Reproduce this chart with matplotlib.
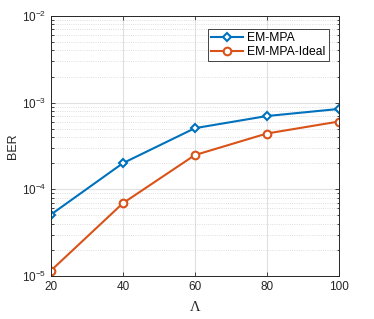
import matplotlib.pyplot as plt
from matplotlib.ticker import LogLocator, NullFormatter, FixedLocator

plt.rcParams['font.family'] = ['Liberation Sans', 'DejaVu Sans']
plt.rcParams['mathtext.fontset'] = 'custom'
plt.rcParams['mathtext.rm'] = 'Liberation Sans'

lam = [20, 40, 60, 80, 100]
ber_mpa = [5.1e-5, 2.0e-4, 5.07e-4, 7.0e-4, 8.45e-4]
ber_ideal = [1.15e-5, 6.9e-5, 2.48e-4, 4.4e-4, 6.05e-4]

blue = '#0072BD'
orange = '#D95319'

fig = plt.figure(figsize=(3.74, 3.19), dpi=100)
ax = fig.add_axes([0.136, 0.135, 0.770, 0.815])

ax.semilogy(lam, ber_mpa, color=blue, lw=1.5, marker='D', ms=4.5,
            mfc='white', mew=1.5, label='EM-MPA')
ax.semilogy(lam, ber_ideal, color=orange, lw=1.5, marker='o', ms=5.5,
            mfc='white', mew=1.5, label='EM-MPA-Ideal')

ax.set_xlim(20, 100)
ax.set_ylim(1e-5, 1e-2)
ax.xaxis.set_major_locator(FixedLocator(lam))
ax.yaxis.set_major_locator(LogLocator(base=10, numticks=10))
ax.yaxis.set_minor_locator(LogLocator(base=10, subs=range(2, 10), numticks=20))
ax.yaxis.set_minor_formatter(NullFormatter())

ax.grid(True, which='major', color='#e0e0e0', lw=0.8)
ax.grid(True, which='minor', axis='y', color='#d4d4d4', lw=0.6, ls=':')
ax.set_axisbelow(True)

ax.tick_params(which='both', direction='in', top=True, right=True,
               labelsize=8.5, colors='#262626', width=0.6)
ax.tick_params(which='major', length=3)
ax.tick_params(which='minor', length=1.8)
for s in ax.spines.values():
    s.set_color('#262626')
    s.set_linewidth(0.7)

ax.set_xlabel('Λ', fontsize=10.5, family='Liberation Serif', color='#262626',
              labelpad=6)
ax.set_ylabel('BER', fontsize=9, color='#262626', labelpad=2)

leg = ax.legend(loc='upper right', bbox_to_anchor=(0.965, 0.95), fontsize=8.7,
                fancybox=False, edgecolor='#262626', framealpha=1,
                handlelength=2.6, borderpad=0.25, labelspacing=0.15,
                handletextpad=0.4, borderaxespad=0)
leg.get_frame().set_linewidth(0.6)

fig.savefig('out.png', dpi=100)
